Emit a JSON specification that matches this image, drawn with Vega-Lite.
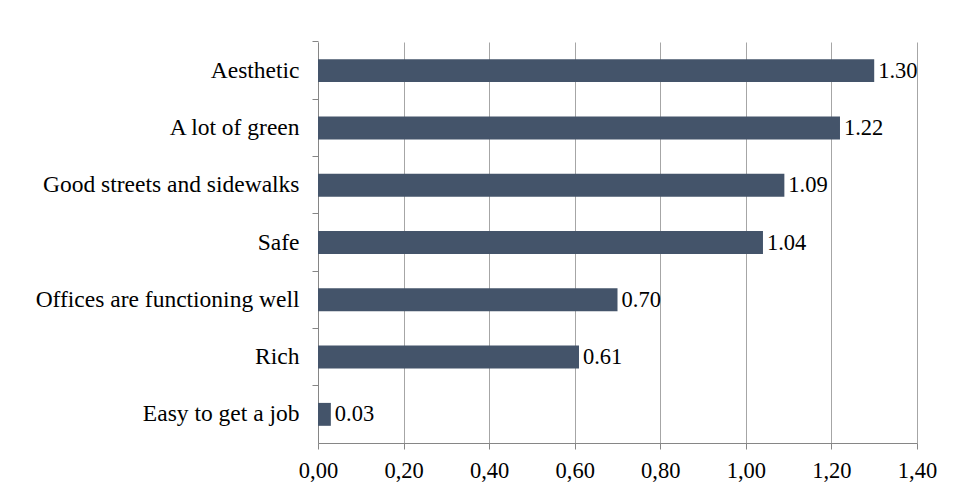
{
  "$schema": "https://vega.github.io/schema/vega-lite/v6.json",
  "autosize": {"type": "none"},
  "width": 599,
  "height": 401,
  "padding": {"left": 318, "top": 42, "right": 37, "bottom": 52},
  "background": "white",
  "data": {
    "values": [
      {"attribute": "Aesthetic", "score": 1.30},
      {"attribute": "A lot of green", "score": 1.22},
      {"attribute": "Good streets and sidewalks", "score": 1.09},
      {"attribute": "Safe", "score": 1.04},
      {"attribute": "Offices are functioning well", "score": 0.70},
      {"attribute": "Rich", "score": 0.61},
      {"attribute": "Easy to get a job", "score": 0.03}
    ]
  },
  "encoding": {
    "y": {
      "field": "attribute",
      "type": "nominal",
      "sort": null,
      "title": null,
      "scale": {"paddingInner": 0.6, "paddingOuter": 0.3},
      "axis": {
        "bandPosition": -0.75,
        "domainColor": "#868686",
        "tickColor": "#868686",
        "tickSize": 6,
        "labelFont": "Liberation Serif",
        "labelFontSize": 23.5,
        "labelColor": "black",
        "labelPadding": 13,
        "labelLimit": 400,
        "grid": false
      }
    },
    "x": {
      "field": "score",
      "type": "quantitative",
      "title": null,
      "scale": {"domain": [0, 1.4], "nice": false, "zero": true},
      "axis": {
        "values": [0, 0.2, 0.4, 0.6, 0.8, 1.0, 1.2, 1.4],
        "labelExpr": "replace(format(datum.value, '.2f'), '.', ',')",
        "labelFlush": false,
        "labelOverlap": false,
        "grid": true,
        "gridColor": "#a6a6a6",
        "domainColor": "#868686",
        "tickColor": "#868686",
        "tickSize": 6,
        "labelFont": "Liberation Serif",
        "labelFontSize": 22.5,
        "labelColor": "black",
        "labelPadding": 10
      }
    }
  },
  "layer": [
    {"mark": {"type": "bar", "color": "#44546A"}},
    {
      "mark": {
        "type": "text",
        "align": "left",
        "baseline": "middle",
        "dx": 4,
        "font": "Liberation Serif",
        "fontSize": 22.5,
        "color": "black"
      },
      "encoding": {"text": {"field": "score", "type": "quantitative", "format": ".2f"}}
    }
  ],
  "config": {"view": {"stroke": null}}
}
